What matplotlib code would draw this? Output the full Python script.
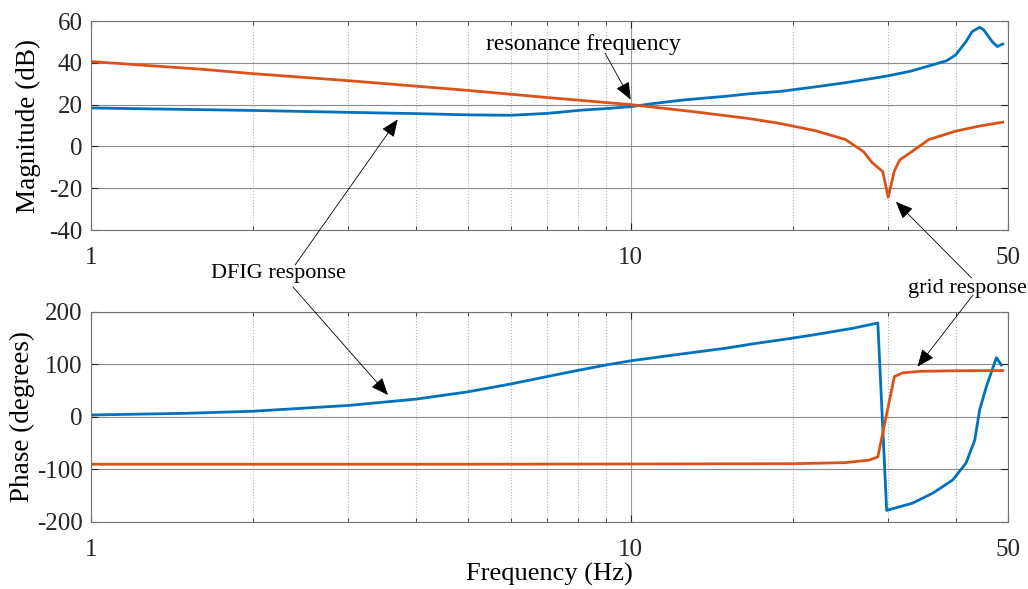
import matplotlib
matplotlib.use("Agg")
import matplotlib.pyplot as plt
import numpy as np
from matplotlib.ticker import FixedLocator, NullFormatter

plt.rcParams['font.family'] = ['Liberation Serif', 'DejaVu Serif']
plt.rcParams['mathtext.fontset'] = 'stix'

# ---- data ----
f_mag_dfig = [1, 1.59, 2, 3, 4, 5, 6, 7, 8.15, 9, 10, 11, 12.5, 15, 16.6, 18.9, 22, 25, 28, 30,
              33, 36, 38.5, 40, 41.8, 42.9, 44.3, 45, 46.8, 47.8, 48.9]
mag_dfig = [18.4, 17.6, 17.2, 16.3, 15.7, 15.1, 14.9, 15.8, 17.4, 18.1, 19.0, 20.5, 22.2, 24.0, 25.2, 26.3,
            28.5, 30.5, 32.5, 33.8, 36.0, 38.8, 41.0, 43.8, 50.1, 54.9, 57.0, 56.0, 50.0, 47.8, 49.0]

f_mag_grid = [1, 1.59, 2, 3.02, 5, 7, 10, 13, 16.6, 18.9, 22, 25, 27, 28, 29.3, 30, 30.8, 31.5, 33.3,
              35.7, 40, 44, 48.9]
mag_grid = [40.6, 37.0, 34.8, 31.4, 26.8, 23.4, 20.0, 16.7, 13.3, 11.0, 7.5, 3.3, -2.5, -7.7, -12.0, -24.3,
            -11.7, -6.5, -2.2, 3.3, 7.3, 9.6, 11.6]

f_ph_dfig = [1, 1.5, 2, 3, 4, 5, 6, 7, 8, 9, 10, 12, 15, 17, 19, 21.7, 25.8, 28.7, 29.8, 33.3, 36.3,
             39.5, 41.8, 43.4, 44.3, 45.6, 47.6, 48.6]
ph_dfig = [3.8, 7, 11, 22, 34, 48, 63, 77, 89, 99, 107, 118, 131, 140, 147, 156, 169, 179, -178, -164,
           -145, -120, -88, -44, 13, 58, 113, 99]

f_ph_grid = [1, 5, 10, 20, 25, 27.7, 28.7, 30.8, 31.9, 34.3, 40, 48.9]
ph_grid = [-90, -90, -89.5, -89, -87, -82, -76, 77, 84, 87, 88, 88.5]

x_ticks = [1, 10, 50]
x_ticklabels = ['1', '10', '50']
minor_x = [2, 3, 4, 5, 6, 7, 8, 9, 20, 30, 40]

blue = '#0072BD'
orange = '#D95319'

fig = plt.figure(figsize=(10.28, 5.89), dpi=100)
ax1 = fig.add_axes([0.0885, 0.6095, 0.892, 0.3548])
ax2 = fig.add_axes([0.0885, 0.1138, 0.892, 0.3565])


def style(ax, ylim, yticks):
    ax.set_xscale('log')
    ax.set_xlim(1, 50)
    ax.set_ylim(*ylim)
    ax.set_yticks(yticks)
    ax.set_yticklabels([str(t) for t in yticks])
    ax.xaxis.set_major_locator(FixedLocator(x_ticks))
    ax.set_xticklabels(x_ticklabels)
    ax.xaxis.set_minor_locator(FixedLocator(minor_x))
    ax.xaxis.set_minor_formatter(NullFormatter())
    ax.grid(which='major', axis='y', color='0.55', lw=0.8, linestyle='-')
    ax.grid(which='major', axis='x', color='0.6', lw=0.8, linestyle='-')
    ax.grid(which='minor', axis='x', color='0.7', lw=0.8, linestyle=':')
    ax.tick_params(which='both', direction='in', top=True, right=True, labelsize=18, colors='0.15')
    ax.tick_params(axis='x', which='major', pad=12, length=5)
    ax.tick_params(axis='x', which='minor', length=3)
    ax.tick_params(axis='y', pad=6, length=5)
    for s in ax.spines.values():
        s.set_color('0.45')
        s.set_linewidth(0.8)
    ax.set_axisbelow(True)


style(ax1, (-40, 60), [-40, -20, 0, 20, 40, 60])
style(ax2, (-200, 200), [-200, -100, 0, 100, 200])

ax1.plot(f_mag_dfig, mag_dfig, color=blue, lw=2)
ax1.plot(f_mag_grid, mag_grid, color=orange, lw=2)
ax2.plot(f_ph_dfig, ph_dfig, color=blue, lw=2)
ax2.plot(f_ph_grid, ph_grid, color=orange, lw=2)

ax1.set_ylabel('Magnitude (dB)', fontsize=19.5, labelpad=6)
ax2.set_ylabel('Phase (degrees)', fontsize=19.5, labelpad=1.5)
ax2.set_xlabel('Frequency (Hz)', fontsize=19, labelpad=1.5)

# annotations
fig.text(0.568, 0.925, 'resonance frequency', fontsize=17, ha='center', va='center')
fig.text(0.2704, 0.5365, 'DFIG response', fontsize=16, ha='center', va='center')
fig.text(0.9407, 0.511, 'grid response', fontsize=16, ha='center', va='center')

arr = dict(arrowstyle='-|>,head_length=0.6,head_width=0.25', color='k', lw=0.6,
           mutation_scale=18, shrinkA=0, shrinkB=0)
ax1.annotate('', xy=(10, 22.4), xytext=(0.5885, 0.910), textcoords='figure fraction',
             arrowprops=arr, annotation_clip=False)
ax1.annotate('', xy=(3.70, 12.9), xytext=(0.287, 0.550), textcoords='figure fraction',
             arrowprops=arr, annotation_clip=False)
ax2.annotate('', xy=(3.55, 41.9), xytext=(0.285, 0.5127), textcoords='figure fraction',
             arrowprops=arr, annotation_clip=False)
ax1.annotate('', xy=(31.0, -26.5), xytext=(0.9452, 0.528), textcoords='figure fraction',
             arrowprops=arr, annotation_clip=False)
ax2.annotate('', xy=(34.0, 95.8), xytext=(0.9465, 0.4992), textcoords='figure fraction',
             arrowprops=arr, annotation_clip=False)

fig.savefig('out.png', dpi=100)
